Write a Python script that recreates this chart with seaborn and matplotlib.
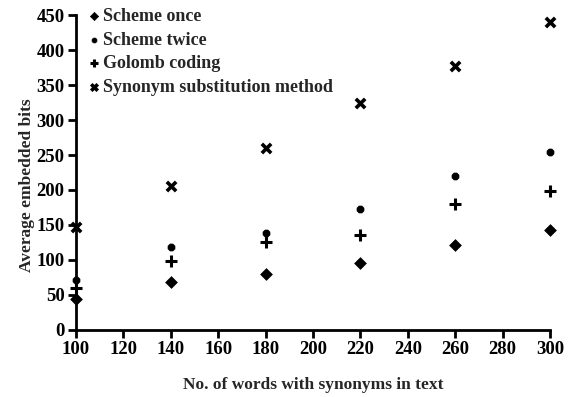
import matplotlib
matplotlib.use("Agg")
import matplotlib.pyplot as plt
import pandas as pd
import seaborn as sns

words = [100, 140, 180, 220, 260, 300]
scheme_once = [44, 68, 80, 95, 122, 143]
scheme_twice = [72, 118, 138, 173, 220, 254]
golomb = [60, 98, 125, 135, 180, 198]
synonym = [147, 206, 260, 325, 377, 440]

labels = ["Scheme once", "Scheme twice", "Golomb coding", "Synonym substitution method"]

df = pd.DataFrame({
    "words": words * 4,
    "bits": scheme_once + scheme_twice + golomb + synonym,
    "method": [m for m in labels for _ in words],
})

sns.set_theme(style="ticks")
plt.rcParams["font.family"] = ["Liberation Serif", "DejaVu Serif"]

fig = plt.figure(figsize=(5.70, 3.97), dpi=100)
ax = fig.add_axes([0.133, 0.169, 0.832, 0.793])

markers = {labels[0]: "D", labels[1]: "8"}
sizes = {labels[0]: 36, labels[1]: 30}

for m in labels:
    sub = df[df["method"] == m]
    if m == labels[2]:
        ax.scatter(sub["words"], sub["bits"], marker="+", s=80, linewidths=2.2,
                   color="black", label=m, clip_on=False, zorder=3)
    elif m == labels[3]:
        ax.scatter(sub["words"], sub["bits"], marker="x", s=45, linewidths=2.6,
                   color="black", label=m, clip_on=False, zorder=3)
    else:
        sns.scatterplot(data=sub, x="words", y="bits", marker=markers[m], s=sizes[m],
                        color="black", edgecolor="black", ax=ax, label=m,
                        clip_on=False, zorder=3)

ax.set_xlim(100, 300)
ax.set_ylim(0, 450)
ax.set_xticks(range(100, 301, 20))
ax.set_yticks(range(0, 451, 50))
for s in ["top", "right"]:
    ax.spines[s].set_visible(False)
for s in ["left", "bottom"]:
    ax.spines[s].set_linewidth(2)
    ax.spines[s].set_color("black")
ax.tick_params(axis="both", direction="out", length=6, width=2, color="black",
               labelsize=13.5, labelcolor="black", pad=2)
for lab in ax.get_xticklabels() + ax.get_yticklabels():
    lab.set_fontweight("bold")

ax.set_xlabel("No. of words with synonyms in text", fontsize=12.5, fontweight="bold", labelpad=14)
ax.set_ylabel("Average embedded bits", fontsize=12.5, fontweight="bold")
ax.yaxis.set_label_coords(-0.085, 0.46)

leg = ax.legend(loc="upper left", frameon=False, handletextpad=0.1,
                borderaxespad=0.0, labelspacing=0.36, handlelength=0.9,
                markerscale=0.7, bbox_to_anchor=(0.005, 1.045),
                prop={"weight": "bold", "size": 13})

fig.savefig("out.png", dpi=100)
